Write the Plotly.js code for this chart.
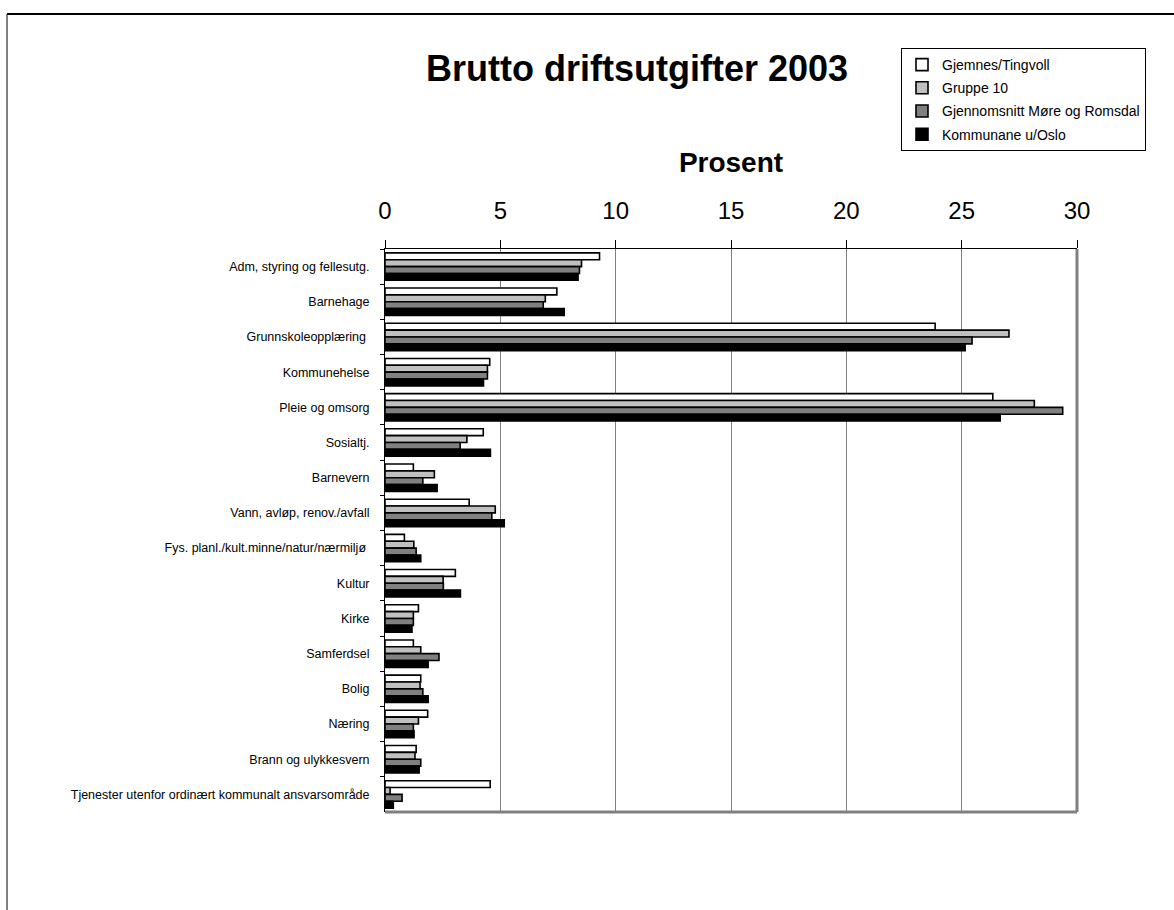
<!DOCTYPE html>
<html>
<head>
<meta charset="utf-8">
<script src="https://cdn.plot.ly/plotly-3.0.1.min.js"></script>
<style>
  html, body { margin: 0; padding: 0; background: #fff; }
  #chart { width: 1174px; height: 910px; }
</style>
</head>
<body>
<div id="chart"></div>
<script>
const categories = [
  "Adm, styring og fellesutg.",
  "Barnehage",
  "Grunnskoleopplæring ",
  "Kommunehelse",
  "Pleie og omsorg",
  "Sosialtj.",
  "Barnevern",
  "Vann, avløp, renov./avfall",
  "Fys. planl./kult.minne/natur/nærmiljø ",
  "Kultur",
  "Kirke",
  "Samferdsel",
  "Bolig",
  "Næring",
  "Brann og ulykkesvern",
  "Tjenester utenfor ordinært kommunalt ansvarsområde"
];
const seriesNames = ["Gjemnes/Tingvoll", "Gruppe 10", "Gjennomsnitt Møre og Romsdal", "Kommunane u/Oslo"];
const gjemnes     = [9.3, 7.45, 23.85, 4.54, 26.35, 4.26, 1.23, 3.65, 0.84, 3.05, 1.45, 1.23, 1.55, 1.85, 1.35, 4.56];
const gruppe10    = [8.52, 6.95, 27.05, 4.44, 28.15, 3.55, 2.14, 4.78, 1.25, 2.52, 1.23, 1.55, 1.52, 1.45, 1.30, 0.22];
const moreRomsdal = [8.43, 6.86, 25.45, 4.44, 29.38, 3.26, 1.64, 4.63, 1.35, 2.53, 1.23, 2.34, 1.64, 1.23, 1.55, 0.74];
const kommunane   = [8.37, 7.77, 25.15, 4.27, 26.67, 4.57, 2.26, 5.17, 1.55, 3.27, 1.17, 1.87, 1.87, 1.26, 1.48, 0.36];
const xTicks = [0, 5, 10, 15, 20, 25, 30];

const seriesValues = [gjemnes, gruppe10, moreRomsdal, kommunane];
const fills = ["#ffffff", "#c0c0c0", "#808080", "#000000"];

const font = "Liberation Sans, Arial, Helvetica, sans-serif";

const traces = seriesValues.map((vals, i) => ({
  type: "bar",
  orientation: "h",
  name: seriesNames[i],
  x: vals,
  y: categories,
  legendgroup: "g" + i,
  marker: { color: fills[i], line: { color: "#000000", width: 1.6 } },
  hoverinfo: "x+name"
}));

const L = 385, R = 1077, T = 249, B = 812;
const W = 1174, H = 910;
const pw = R - L, ph = B - T;

const layout = {
  width: W,
  height: H,
  margin: { l: L, r: W - R, t: T, b: H - B, pad: 0, autoexpand: false },
  paper_bgcolor: "#ffffff",
  plot_bgcolor: "#ffffff",
  font: { family: font, color: "#000000" },
  barmode: "group",
  bargap: 0.22,
  bargroupgap: 0,
  title: {
    text: "<b>Brutto driftsutgifter 2003</b>",
    font: { family: font, size: 36, color: "#000000" },
    xref: "container", yref: "container",
    x: 637 / W, xanchor: "center",
    y: 1 - 68 / H, yanchor: "middle"
  },
  xaxis: {
    side: "top",
    range: [0, 30],
    tickvals: xTicks,
    ticktext: xTicks.map(String),
    tickfont: { family: font, size: 24, color: "#000000" },
    ticks: "outside",
    ticklen: 8,
    tickcolor: "#000000",
    tickwidth: 1,
    showline: true,
    linecolor: "#000000",
    linewidth: 1,
    showgrid: true,
    gridcolor: "#808080",
    gridwidth: 1,
    zeroline: false,
    fixedrange: true,
    automargin: false,
    ticklabelstandoff: 11,
    title: {
      text: "<b>Prosent</b>",
      font: { family: font, size: 28, color: "#000000" },
      standoff: 16
    }
  },
  yaxis: {
    type: "category",
    autorange: "reversed",
    tickfont: { family: font, size: 12.5, color: "#000000" },
    ticks: "outside",
    tickson: "boundaries",
    ticklen: 4,
    tickcolor: "#000000",
    showline: true,
    linecolor: "#000000",
    linewidth: 1,
    showgrid: false,
    zeroline: false,
    fixedrange: true,
    automargin: false,
    ticklabelstandoff: 12
  },
  showlegend: true,
  legend: {
    x: 1146 / W, xref: "container", xanchor: "right",
    y: 1 - 48 / H, yref: "container", yanchor: "top",
    bgcolor: "#ffffff",
    bordercolor: "#000000",
    borderwidth: 1,
    font: { family: font, size: 14, color: "#000000" },
    traceorder: "grouped",
    tracegroupgap: 2,
    itemwidth: 30
  },
  shapes: [
    { type: "line", xref: "paper", yref: "paper", x0: 1, x1: 1, y0: 0, y1: 1,
      line: { color: "#808080", width: 3 } },
    { type: "line", xref: "paper", yref: "paper", x0: 0, x1: 1, y0: 0, y1: 0,
      line: { color: "#808080", width: 3 } },
    { type: "line", xref: "paper", yref: "paper",
      x0: (7 - L) / pw, x1: (W + 10 - L) / pw, y0: (B - 14) / ph, y1: (B - 14) / ph,
      line: { color: "#000000", width: 2 } },
    { type: "line", xref: "paper", yref: "paper",
      x0: (7 - L) / pw, x1: (7 - L) / pw, y0: (B - 14) / ph, y1: (B - H - 10) / ph,
      line: { color: "#000000", width: 1 } }
  ]
};

Plotly.newPlot("chart", traces, layout, { displayModeBar: false });
</script>
</body>
</html>
